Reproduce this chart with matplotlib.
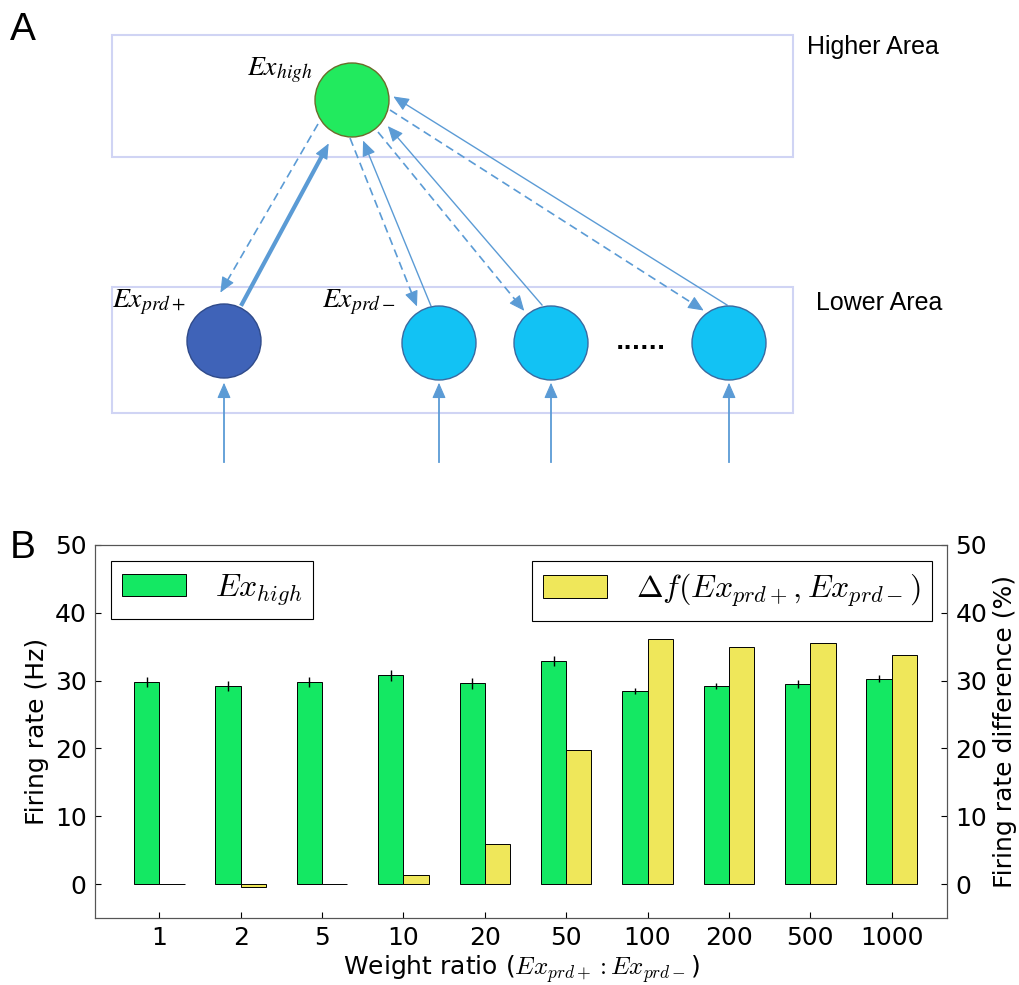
import matplotlib
matplotlib.use('Agg')
import matplotlib.pyplot as plt
import numpy as np
from matplotlib.patches import Circle, Rectangle, FancyArrowPatch, Patch

# data for panel B
ratios = ['1', '2', '5', '10', '20', '50', '100', '200', '500', '1000']
rate_high = [29.8, 29.2, 29.8, 30.8, 29.6, 32.9, 28.5, 29.2, 29.5, 30.3]
rate_err = [0.7, 0.7, 0.8, 0.8, 0.8, 0.7, 0.4, 0.5, 0.6, 0.5]
rate_diff = [0.0, -0.4, 0.0, 1.4, 5.9, 19.8, 36.2, 34.9, 35.6, 33.8]

GREEN = '#14e863'
YELLOW = '#efe75a'
ARROW = '#5b9bd5'
BOXEDGE = '#d0d4f4'

W, H = 1019, 985
fig = plt.figure(figsize=(W / 100, H / 100), dpi=100)

# --- panel A: drawn in pixel coordinates ---
da = fig.add_axes([0, 0, 1, 1])
da.set_xlim(0, W)
da.set_ylim(H, 0)
da.axis('off')

da.text(10, 30, 'A', fontsize=28, family='Liberation Sans', va='center', ha='left')
da.text(10, 548, 'B', fontsize=28, family='Liberation Sans', va='center', ha='left')

# area boxes
da.add_patch(Rectangle((112, 35), 681, 122, fill=False, ec=BOXEDGE, lw=1.5))
da.add_patch(Rectangle((112, 287), 681, 126, fill=False, ec=BOXEDGE, lw=1.5))
da.text(807, 47, 'Higher Area', fontsize=18, family='Liberation Sans', va='center')
da.text(816, 303, 'Lower Area', fontsize=18, family='Liberation Sans', va='center')


def arrow(p0, p1, dashed=False, lw=1.0):
    # line part, then a solid head at the end
    p0 = np.array(p0, float)
    p1 = np.array(p1, float)
    d = (p1 - p0) / np.hypot(*(p1 - p0))
    base = p1 - d * 10
    da.plot([p0[0], base[0]], [p0[1], base[1]], color=ARROW, lw=lw,
            ls=(0, (5, 3)) if dashed else '-', zorder=2)
    da.add_patch(FancyArrowPatch(base - d * 2, p1, arrowstyle='-|>,head_length=0.8,head_width=0.35',
                                 mutation_scale=12, color=ARROW, lw=0.8, zorder=3))


# connections between areas
arrow((242, 304), (330, 141), lw=3.0)
arrow((318, 124), (219, 295), dashed=True, lw=1.2)
arrow((350, 138), (418, 309), dashed=True, lw=1.2)
arrow((431, 306), (362, 138), lw=1.0)
arrow((378, 132), (526, 313), dashed=True, lw=1.2)
arrow((542, 305), (386, 124), lw=1.0)
arrow((390, 110), (706, 312), dashed=True, lw=1.2)
arrow((727, 305), (391, 95), lw=1.0)

# input arrows
for x in [224, 439, 551, 729]:
    arrow((x, 462), (x, 380), lw=1.3)

# neurons
da.add_patch(Circle((352, 100), 37, fc='#22ea5e', ec='#6b6b2a', lw=1.0, zorder=4))
da.add_patch(Circle((224, 341), 37, fc='#3f63b8', ec='#2f4a8a', lw=1.0, zorder=4))
for x in [439, 551, 729]:
    da.add_patch(Circle((x, 343), 37, fc='#12c2f4', ec='#3a6aa0', lw=1.0, zorder=4))
da.text(641, 343, '......', fontsize=16, ha='center', va='center', fontweight='bold')

da.text(312, 70, r'$Ex_{high}$', fontsize=20, ha='right', va='center', math_fontfamily='stix')
da.text(112, 302, r'$Ex_{prd+}$', fontsize=20, ha='left', va='center', math_fontfamily='stix')
da.text(322, 302, r'$Ex_{prd-}$', fontsize=20, ha='left', va='center', math_fontfamily='stix')

# --- panel B ---
ax = fig.add_axes([95 / W, 1 - 918 / H, 852 / W, 373 / H])
x = np.arange(1, len(ratios) + 1)
width = 0.31
ax.bar(x - width, rate_high, width, align='edge', color=GREEN, edgecolor='k', lw=0.7,
       yerr=rate_err, error_kw=dict(ecolor='k', elinewidth=1, capsize=0), zorder=2)
ax.set_xlim(0.21, 10.68)
ax.set_ylim(-5, 50)
ax.set_yticks([0, 10, 20, 30, 40, 50])
ax.set_xticks(x)
ax.set_xticklabels(ratios)
ax.tick_params(labelsize=18, direction='in', length=4, top=False, pad=6)
ax.set_ylabel('Firing rate (Hz)', fontsize=18, labelpad=4)
ax.set_xlabel(r'Weight ratio ($Ex_{prd+}:Ex_{prd-}$)', fontsize=18, labelpad=2)
ax.xaxis.label.set_math_fontfamily('cm')

ax2 = ax.twinx()
ax2.bar(x, rate_diff, width, align='edge', color=YELLOW, edgecolor='k', lw=0.7, zorder=2)
ax2.set_ylim(-5, 50)
ax2.set_yticks([0, 10, 20, 30, 40, 50])
ax2.tick_params(labelsize=18, direction='in', length=4, pad=6)
ax2.set_ylabel('Firing rate difference (%)', fontsize=18, labelpad=4)

for a in (ax, ax2):
    for s in a.spines.values():
        s.set_color('#555555')

leg_kw = dict(fontsize=23, handlelength=2.0, handleheight=0.72, handletextpad=0.9,
              borderpad=0.35, borderaxespad=0, fancybox=False, edgecolor='k', framealpha=1)
lg1 = ax2.legend([Patch(fc=GREEN, ec='k', lw=0.7)], [r'$Ex_{high}$'],
                 loc='upper left', bbox_to_anchor=(0.019, 0.957), **leg_kw)
lg1.get_frame().set_linewidth(0.8)
for t in lg1.get_texts():
    t.set_math_fontfamily('cm')
ax2.add_artist(lg1)
lg2 = ax2.legend([Patch(fc=YELLOW, ec='k', lw=0.7)], [r'$\Delta f(Ex_{prd+}, Ex_{prd-})$'],
                 loc='upper right', bbox_to_anchor=(0.982, 0.957), **leg_kw)
lg2.get_frame().set_linewidth(0.8)
for t in lg2.get_texts():
    t.set_math_fontfamily('cm')

fig.savefig('out.png', dpi=100)
